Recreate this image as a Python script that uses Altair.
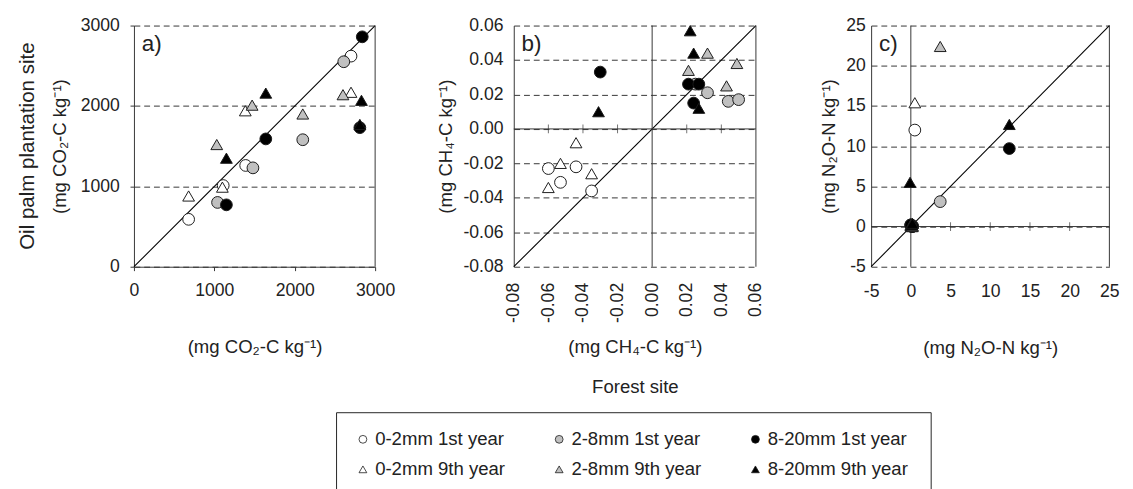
import altair as alt
import pandas as pd

FONT = "Liberation Sans, Arial, sans-serif"
INK = "#222222"

SERIES = ["0-2mm 1st year", "2-8mm 1st year", "8-20mm 1st year",
          "0-2mm 9th year", "2-8mm 9th year", "8-20mm  9th year"]
FILLS = ["white", "#c0c0c0", "black", "white", "#c0c0c0", "black"]
SHAPES = ["circle", "circle", "circle", "triangle-up", "triangle-up", "triangle-up"]
STROKES = ["#1a1a1a"] * 6

# ---- panel a: CO2 (forest x, oil palm y) ----
co2_x = [
    [2700, 1390, 680, 1110],
    [2610, 2100, 1480, 1040],
    [2840, 1640, 2810, 1150],
    [2700, 1385, 680, 1100],
    [2600, 1470, 2100, 1030],
    [2830, 1640, 1150, 2810],
]
co2_y = [
    [2620, 1260, 590, 1010],
    [2550, 1580, 1230, 800],
    [2860, 1590, 1730, 770],
    [2170, 1940, 880, 990],
    [2140, 2010, 1900, 1520],
    [2070, 2160, 1350, 1770],
]

# ---- panel b: CH4 ----
ch4_x = [
    [-0.060, -0.044, -0.053, -0.035],
    [0.032, 0.044, 0.050, 0.025],
    [0.021, 0.027, 0.024, -0.030],
    [-0.044, -0.053, -0.035, -0.060],
    [0.032, 0.049, 0.043, 0.021],
    [0.022, 0.024, 0.027, -0.031],
]
ch4_y = [
    [-0.023, -0.022, -0.031, -0.036],
    [0.021, 0.016, 0.017, 0.026],
    [0.026, 0.026, 0.015, 0.033],
    [-0.008, -0.020, -0.026, -0.034],
    [0.044, 0.038, 0.025, 0.034],
    [0.057, 0.044, 0.012, 0.010],
]

# ---- panel c: N2O ----
n2o_x = [
    [0.5, 0.1, 0.2, 0.0],
    [3.7, 0.1, 0.2, 0.0],
    [12.4, 0.1, 0.2, 0.0],
    [0.5, 0.1, 0.0, 0.2],
    [3.7, 0.1, 0.0, 0.2],
    [12.4, -0.1, 0.1, 0.2],
]
n2o_y = [
    [12.0, 0.1, 0.0, 0.2],
    [3.1, 0.0, 0.1, 0.2],
    [9.7, 0.1, 0.0, 0.2],
    [15.4, 0.2, 0.1, 0.0],
    [22.4, 0.0, 0.2, 0.1],
    [12.7, 5.5, 0.2, 0.4],
]

CO2_TICKS = [0, 1000, 2000, 3000]
CH4_TICKS = [-0.08, -0.06, -0.04, -0.02, 0.0, 0.02, 0.04, 0.06]
N2O_TICKS = [-5, 0, 5, 10, 15, 20, 25]
CH4_ZERO_TICKS = [-0.06, -0.04, -0.02, 0.02, 0.04]
N2O_ZERO_TICKS = [5, 10, 15, 20]


def frame(xs, ys):
    rows = []
    for s, xl, yl in zip(SERIES, xs, ys):
        for xv, yv in zip(xl, yl):
            rows.append({"series": s, "x": xv, "y": yv})
    return pd.DataFrame(rows)


LEGEND = alt.Legend(
    title=None, orient="none", legendX=207, legendY=396, columns=3,
    direction="horizontal",
    strokeColor=INK, padding=18, labelFont=FONT, labelFontSize=19,
    labelColor=INK, symbolSize=64, symbolStrokeWidth=0.8,
    columnPadding=45, rowPadding=11, labelOffset=3,
)


def lab_expr(fmt):
    return ("datum.value < 0 ? '-' + format(-datum.value, '%s') : format(datum.value, '%s')"
            % (fmt, fmt))


def panel(df, lo, hi, xaxis, yaxis, label, width, zero_ticks=None, cross=False):
    sc = alt.Scale(domain=[lo, hi], nice=False, zero=False)
    X = alt.X("x:Q", scale=sc, axis=xaxis)
    Y = alt.Y("y:Q", scale=sc, axis=yaxis)

    layers = []
    diag = alt.Chart(pd.DataFrame({"x": [lo], "y": [lo], "x2": [hi], "y2": [hi]})).mark_rule(
        color="black", strokeWidth=1.1
    ).encode(x=X, y=Y, x2="x2:Q", y2="y2:Q")
    layers.append(diag)

    if cross:
        hz = alt.Chart(pd.DataFrame({"y": [0]})).mark_rule(color="#333333", strokeWidth=1).encode(y=Y)
        vz = alt.Chart(pd.DataFrame({"x": [0]})).mark_rule(color="#333333", strokeWidth=1).encode(x=X)
        tk = alt.Chart(pd.DataFrame({"x": zero_ticks, "y": [0] * len(zero_ticks)})).mark_tick(
            orient="vertical", size=9, thickness=1, color="#333333"
        ).encode(x=X, y=Y)
        layers += [hz, vz, tk]

    border = alt.Chart(pd.DataFrame({"x": [hi]})).mark_rule(color="#333333", strokeWidth=1).encode(x=X)
    layers.append(border)

    pts = alt.Chart(df).mark_point(
        filled=True, size=145, strokeWidth=1, opacity=1
    ).encode(
        x=X, y=Y,
        fill=alt.Fill("series:N", scale=alt.Scale(domain=SERIES, range=FILLS), legend=LEGEND),
        shape=alt.Shape("series:N", scale=alt.Scale(domain=SERIES, range=SHAPES), legend=LEGEND),
        stroke=alt.Stroke("series:N", scale=alt.Scale(domain=SERIES, range=STROKES), legend=LEGEND),
    )
    layers.append(pts)

    lab = alt.Chart(pd.DataFrame({"t": [label]})).mark_text(
        align="left", baseline="middle", fontSize=23, font=FONT, color=INK
    ).encode(x=alt.value(8), y=alt.value(19), text="t:N")
    layers.append(lab)

    return alt.layer(*layers).properties(width=width, height=247)


GRID = dict(grid=True, gridDash=[6, 4], gridColor="#333333", gridWidth=1)

ax_a_x = alt.Axis(values=CO2_TICKS, format="d", labelFlush=False, tickSize=4,
                  labelPadding=11, grid=False, title="(mg CO₂-C kg⁻¹)", titlePadding=40)
ax_a_y = alt.Axis(values=CO2_TICKS, format="d", tickSize=4, labelPadding=11,
                  title="(mg CO₂-C kg⁻¹)", titlePadding=11, **GRID)

ax_b_x = alt.Axis(values=CH4_TICKS, labelExpr=lab_expr(".2f"), labelAngle=270, ticks=False,
                  domain=False, labelFlush=False, labelPadding=16, grid=False,
                  title=["(mg CH₄-C kg⁻¹)", "Forest site"], titleLineHeight=41, titlePadding=16)
ax_b_y = alt.Axis(values=CH4_TICKS, labelExpr=lab_expr(".2f"), ticks=False, labelPadding=11,
                  title="(mg CH₄-C kg⁻¹)", titlePadding=8, **GRID)

ax_c_x = alt.Axis(values=N2O_TICKS, labelExpr=lab_expr("d"), ticks=False, domain=False,
                  labelFlush=False, labelPadding=17, grid=False,
                  title="(mg N₂O-N kg⁻¹)", titlePadding=39)
ax_c_y = alt.Axis(values=N2O_TICKS, labelExpr=lab_expr("d"), ticks=False, labelPadding=6,
                  title="(mg N₂O-N kg⁻¹)", titlePadding=8, **GRID)

pa = panel(frame(co2_x, co2_y), 0, 3000, ax_a_x, ax_a_y, "a)", 247).properties(
    title=alt.TitleParams("Oil palm plantation site", orient="left", fontSize=21,
                          font=FONT, fontWeight="normal", color=INK, offset=13)
)
pb = panel(frame(ch4_x, ch4_y), -0.08, 0.06, ax_b_x, ax_b_y, "b)", 248,
           zero_ticks=CH4_ZERO_TICKS, cross=True)
pc = panel(frame(n2o_x, n2o_y), -5, 25, ax_c_x, ax_c_y, "c)", 244,
           zero_ticks=N2O_ZERO_TICKS, cross=True)

chart = alt.hconcat(
    alt.hconcat(pa, pb, spacing=41),
    pc, spacing=55,
).resolve_scale(fill="shared", shape="shared", stroke="shared").properties(
    padding={"left": 9, "top": 3, "right": 5, "bottom": 0}
).configure_view(stroke=None).configure_axis(
    labelFont=FONT, titleFont=FONT, labelFontSize=18, titleFontSize=19,
    labelColor=INK, titleColor=INK, titleFontWeight="normal",
    domainColor="#333333", tickColor="#333333",
)

chart.save("out.html", embed_options={"renderer": "svg", "actions": False})
